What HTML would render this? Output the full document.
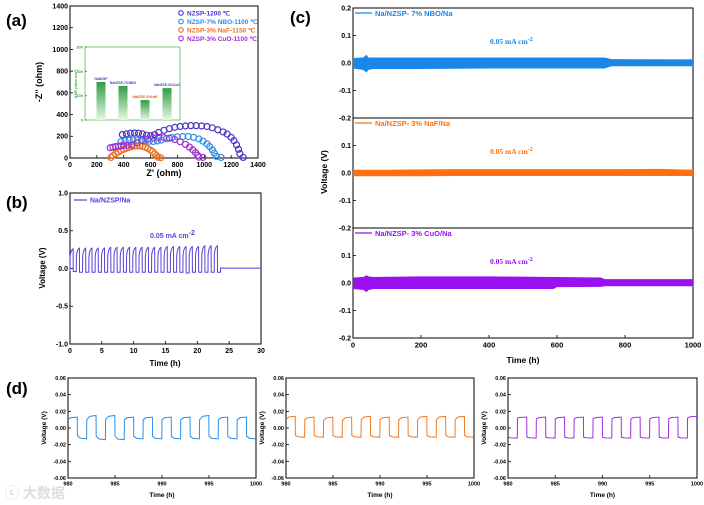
<!DOCTYPE html>
<html><head><meta charset="utf-8">
<style>
html,body{margin:0;padding:0;background:#fff;}
svg{display:block;font-family:"Liberation Sans",Arial,sans-serif;font-weight:bold;}
</style></head>
<body>
<svg id="fig" width="704" height="505" viewBox="0 0 704 505" xmlns="http://www.w3.org/2000/svg">
<rect width="704" height="505" fill="#fff"/>
<text x="6" y="26" font-size="17">(a)</text>
<text x="6" y="208" font-size="17">(b)</text>
<text x="290" y="23" font-size="17">(c)</text>
<text x="6" y="394" font-size="17">(d)</text>
<text x="5" y="498" font-size="14" fill="#ddd" font-family="'Liberation Sans','Noto Sans CJK SC',sans-serif">ⓒ 大数据</text>
</svg>
<script>
const NS="http://www.w3.org/2000/svg";
const svg=document.getElementById('fig');
function mk(tag,attrs,parent,txt){const e=document.createElementNS(NS,tag);for(const k in attrs)e.setAttribute(k,attrs[k]);if(txt!==undefined)e.textContent=txt;(parent||svg).appendChild(e);return e;}
function lin(d0,d1,r0,r1){return v=>r0+(v-d0)*(r1-r0)/(d1-d0);}

// ---------- DATA ----------
// (a) Nyquist
const aSeriesNames=["NZSP-1200 ℃","NZSP-7% NBO-1100 ℃","NZSP-3% NaF-1150 ℃","NZSP-3% CuO-1100 ℃"];
const aColors=["#4b33c9","#2a8ee8","#f07020","#a030d0"];
const aX0=[390,420,450,480,510,540,570,600,630,660,700,740,780,820,860,900,940,980,1020,1060,1100,1140,1170,1200,1220,1240,1255,1265,1290];
const aY0=[215,222,228,230,228,222,210,205,215,235,255,270,282,290,295,298,298,295,290,278,260,240,220,190,160,120,80,40,5];
const aX1=[380,410,440,470,500,530,560,590,620,650,680,720,760,800,840,880,920,960,990,1020,1040,1060,1075,1090,1125];
const aY1=[150,158,163,165,165,163,160,155,152,158,165,178,188,195,198,198,190,175,155,130,105,75,45,15,5];
const aX2=[305,320,340,360,380,400,420,440,460,480,500,520,540,560,580,600,615,630,645,655,675];
const aY2=[5,22,40,55,68,80,90,98,105,110,112,112,108,100,88,72,58,40,22,8,3];
const aX3=[300,320,340,360,380,400,430,460,500,540,580,620,660,700,740,780,820,860,890,915,935,950,960,990];
const aY3=[95,100,105,110,112,115,118,122,140,160,175,185,190,188,182,170,150,125,100,75,50,25,8,5];
const aXs=[aX0,aX1,aX2,aX3], aYs=[aY0,aY1,aY2,aY3];
const aTicks=[0,200,400,600,800,1000,1200,1400];
// inset ASR
const insetCats=["NaNZSP","NaNZSP-7%NBO","NaNZSP-3%NaF","NaNZSP-3%CuO"];
const insetVals=[156,140,82,131];
const insetTicks=[0,100,200,300];
// (b)
const bPeaks=[0.26,0.27,0.27,0.27,0.27,0.27,0.28,0.28,0.28,0.28,0.28,0.28,0.28,0.28,0.28,0.29,0.29,0.29,0.29,0.29,0.29,0.3,0.3,0.3];
const bLows=[-0.04,-0.05,-0.05,-0.05,-0.05,-0.05,-0.05,-0.05,-0.05,-0.05,-0.05,-0.05,-0.05,-0.05,-0.05,-0.05,-0.05,-0.05,-0.06,-0.05,-0.05,-0.05,-0.05,-0.05];
const bCycleHours=0.985;
const bRestValue=0.005;
const bXTicks=[0,5,10,15,20,25,30];
const bYTicks=[-1.0,-0.5,0.0,0.5,1.0];
// (c) bands
const cNames=["Na/NZSP- 7% NBO/Na","Na/NZSP- 3% NaF/Na","Na/NZSP- 3% CuO/Na"];
const cColors=["#1a86e8","#ff7010","#9a10f0"];
const cTimes=[[0,30,40,45,60,200,400,600,740,760,1000],[0,100,200,300,400,500,600,700,800,900,1000],[0,30,40,45,60,200,400,590,600,730,740,1000]];
const cUpper=[[0.018,0.02,0.03,0.02,0.02,0.02,0.02,0.02,0.02,0.014,0.013],[0.012,0.012,0.013,0.014,0.014,0.014,0.014,0.014,0.014,0.015,0.012],[0.02,0.022,0.028,0.024,0.022,0.024,0.024,0.022,0.022,0.02,0.014,0.014]];
const cLower=[[-0.02,-0.025,-0.035,-0.025,-0.022,-0.022,-0.02,-0.02,-0.02,-0.012,-0.012],[-0.012,-0.012,-0.012,-0.011,-0.011,-0.011,-0.011,-0.011,-0.011,-0.011,-0.011],[-0.022,-0.025,-0.033,-0.026,-0.022,-0.022,-0.022,-0.022,-0.015,-0.014,-0.012,-0.012]];
const cXTicks=[0,200,400,600,800,1000];
const cYTicks=[-0.2,-0.1,0.0,0.1,0.2];
// (d)
const dColors=["#2a8ee8","#f07a26","#a030e0"];
const dStartHigh=[[0.010,0.010,0.010,0.010,0.010,0.010,0.010,0.010,0.010,0.010],[0.010,0.010,0.009,0.009,0.010,0.010,0.010,0.010,0.010,0.010],[0.012,0.011,0.011,0.011,0.011,0.011,0.011,0.011,0.011,0.012]];
const dHigh=[[0.013,0.015,0.015,0.013,0.013,0.013,0.013,0.015,0.013,0.013],[0.014,0.013,0.013,0.013,0.014,0.013,0.013,0.014,0.014,0.014],[0.013,0.013,0.013,0.013,0.013,0.013,0.013,0.013,0.013,0.014]];
const dStartLow=[[-0.009,-0.010,-0.010,-0.010,-0.010,-0.010,-0.010,-0.010,-0.010,-0.010],[-0.009,-0.009,-0.009,-0.009,-0.009,-0.009,-0.009,-0.009,-0.009,-0.009],[-0.011,-0.011,-0.011,-0.011,-0.011,-0.011,-0.011,-0.011,-0.011,-0.011]];
const dLow=[[-0.013,-0.014,-0.014,-0.013,-0.013,-0.013,-0.013,-0.013,-0.013,-0.013],[-0.011,-0.011,-0.011,-0.011,-0.011,-0.011,-0.011,-0.011,-0.011,-0.011],[-0.012,-0.012,-0.012,-0.012,-0.012,-0.012,-0.012,-0.012,-0.012,-0.012]];
const dLowFirst=[false,false,true];
const dXTicks=[980,985,990,995,1000];
const dYTicks=[-0.06,-0.04,-0.02,0.00,0.02,0.04,0.06];

// ---------- helpers ----------
function frame(x0,y0,x1,y1,name){mk('rect',{x:x0,y:y0,width:x1-x0,height:y1-y0,fill:'none',stroke:'#000','stroke-width':1,});}
function xTicks(ticks,sx,yb,fs,fmt,name){const g=mk('g',{});ticks.forEach(t=>{const x=sx(t);mk('line',{x1:x,x2:x,y1:yb,y2:yb-3,stroke:'#000','stroke-width':0.8},g);mk('text',{x:x,y:yb+fs+2,'font-size':fs,'text-anchor':'middle'},g,fmt(t));});}
function yTicks(ticks,sy,xl,fs,fmt,name){const g=mk('g',{});ticks.forEach(t=>{const y=sy(t);mk('line',{x1:xl,x2:xl+3,y1:y,y2:y,stroke:'#000','stroke-width':0.8},g);mk('text',{x:xl-2,y:y+fs*0.35,'font-size':fs,'text-anchor':'end'},g,fmt(t));});}

// ---------- (a) ----------
{
const sx=lin(0,1400,70,258), sy=lin(0,1400,158,6);
frame(70,6,258,158,'nyquist-plot-frame');
xTicks(aTicks,sx,158,7,t=>t,'nyquist-x-ticks');
yTicks(aTicks,sy,70,7,t=>t,'nyquist-y-ticks');
mk('text',{x:164,y:176,'font-size':9,'text-anchor':'middle',},svg,"Z' (ohm)");
mk('text',{x:0,y:0,'font-size':9,'text-anchor':'middle',transform:'translate(42,82) rotate(-90)',},svg,"-Z'' (ohm)");
aXs.forEach((xs,k)=>{const g=mk('g',{});
 xs.forEach((v,i)=>{const c=mk('circle',{cx:sx(v),cy:sy(aYs[k][i]),r:3,fill:'none',stroke:aColors[k],'stroke-width':1.2},g);
 });});
aSeriesNames.forEach((n,k)=>{const y=15+k*8.5;const g=mk('g',{});
 mk('circle',{cx:181,cy:y-2,r:2.3,fill:'none',stroke:aColors[k],'stroke-width':1.1},g);
 mk('text',{x:187,y:y+0.5,'font-size':6.5,fill:aColors[k]},g,n);});
// inset
const ix=lin(0,4,90,178), iy=lin(0,300,120,47);
mk('rect',{x:85,y:47,width:95,height:73,fill:'#fff',stroke:'#5cb85c','stroke-width':0.8,});
const defs=mk('defs',{});const gr=mk('linearGradient',{id:'gb',x1:0,y1:0,x2:0,y2:1},defs);
mk('stop',{offset:'0','stop-color':'#2f9e44'},gr);mk('stop',{offset:'1','stop-color':'#e6f7e6'},gr);
insetTicks.forEach(t=>{mk('line',{x1:85,x2:87,y1:iy(t),y2:iy(t),stroke:'#3a3'});mk('text',{x:83,y:iy(t)+1.5,'font-size':4,'text-anchor':'end',fill:'#3a3'},svg,t);});
mk('text',{x:0,y:0,'font-size':4,'text-anchor':'middle',fill:'#3a3',transform:'translate(77,84) rotate(-90)'},svg,'ASR (ohm cm²)');
insetVals.forEach((v,i)=>{const xc=ix(i+0.5);const b=mk('rect',{x:xc-4.5,y:iy(v),width:9,height:iy(0)-iy(v),fill:'url(#gb)'});
 
 mk('text',{x:xc,y:iy(v)-2,'font-size':3.3,'text-anchor':'middle',fill:i==2?'#e06010':'#4040c0'},svg,insetCats[i]);});
}

// ---------- (b) ----------
{
const sx=lin(0,30,70,261), sy=lin(-1,1,344,193);
frame(70,193,261,344,'voltage-b-frame');
xTicks(bXTicks,sx,344,7,t=>t,'voltage-b-x-ticks');
yTicks(bYTicks,sy,70,7,t=>t.toFixed(1),'voltage-b-y-ticks');
mk('text',{x:165,y:366,'font-size':8,'text-anchor':'middle',},svg,'Time (h)');
mk('text',{x:0,y:0,'font-size':8,'text-anchor':'middle',transform:'translate(45,268) rotate(-90)',},svg,'Voltage (V)');
let d='';bPeaks.forEach((p,i)=>{const t0=i*bCycleHours,h=bCycleHours/2;const lo=bLows[i];
 d+=(i?'L':'M')+sx(t0)+','+sy(lo)+'L'+sx(t0+0.02)+','+sy(p*0.6)+'Q'+sx(t0+0.12)+','+sy(p*0.95)+' '+sx(t0+h)+','+sy(p)+'L'+sx(t0+h+0.02)+','+sy(lo)+'L'+sx(t0+2*h)+','+sy(lo);});
const tEnd=bPeaks.length*bCycleHours;
d+='L'+sx(tEnd)+','+sy(bRestValue)+'L'+sx(30)+','+sy(bRestValue);
mk('path',{d:d,fill:'none',stroke:'#5a3fd8','stroke-width':1,});
mk('line',{x1:74,x2:87,y1:200,y2:200,stroke:'#5a3fd8','stroke-width':1.2});
mk('text',{x:90,y:202.5,'font-size':7,fill:'#5a3fd8',},svg,'Na/NZSP/Na');
mk('text',{x:150,y:238,'font-size':7,fill:'#5a3fd8',},svg,'0.05 mA cm').appendChild(Object.assign(document.createElementNS(NS,'tspan'),{textContent:'-2'})).setAttribute('dy','-3');
}

// ---------- (c) ----------
{
const sx=lin(0,1000,353,693);
const tops=[8,118,228];
cNames.forEach((n,k)=>{const y0=tops[k],y1=y0+110;const sy=lin(-0.2,0.2,y1,y0);
 frame(353,y0,693,y1,'voltage-c-frame-'+k);
 yTicks(k==0?cYTicks:cYTicks.slice(0,4),sy,353,7,t=>t.toFixed(1),'voltage-c-y-ticks-'+k);
 let up='',lo='';cTimes[k].forEach((t,i)=>{up+=(i?'L':'M')+sx(t)+','+sy(cUpper[k][i]);});
 for(let i=cTimes[k].length-1;i>=0;i--)lo+='L'+sx(cTimes[k][i])+','+sy(cLower[k][i]);
 mk('path',{d:up+lo+'Z',fill:cColors[k],});
 mk('line',{x1:355,x2:372,y1:y0+5,y2:y0+5,stroke:cColors[k],'stroke-width':1.2});
 mk('text',{x:375,y:y0+8,'font-size':7.5,fill:cColors[k],},svg,n);
 const ann=mk('text',{x:490,y:y0+36,'font-size':7.5,fill:cColors[k],'font-family':'"Liberation Serif",serif',},svg,'0.05 mA cm');
 mk('tspan',{dy:-3,'font-size':6},ann,'-2');
});
xTicks(cXTicks,sx,338,7.5,t=>t,'voltage-c-x-ticks');
mk('text',{x:523,y:363,'font-size':8.5,'text-anchor':'middle',},svg,'Time (h)');
mk('text',{x:0,y:0,'font-size':8.5,'text-anchor':'middle',transform:'translate(327,172) rotate(-90)',},svg,'Voltage (V)');
}

// ---------- (d) ----------
{
const lefts=[68,286,508], rights=[256,474,697];
dColors.forEach((col,k)=>{const sx=lin(980,1000,lefts[k],rights[k]), sy=lin(-0.06,0.06,478,378);
 frame(lefts[k],378,rights[k],478,'voltage-d-frame-'+k);
 xTicks(dXTicks,sx,478,5.5,t=>t,'voltage-d-x-ticks-'+k);
 yTicks(dYTicks,sy,lefts[k],5.5,t=>t.toFixed(2),'voltage-d-y-ticks-'+k);
 mk('text',{x:(lefts[k]+rights[k])/2,y:497,'font-size':6.5,'text-anchor':'middle',},svg,'Time (h)');
 mk('text',{x:0,y:0,'font-size':6.5,'text-anchor':'middle',transform:'translate('+(lefts[k]-22)+',428) rotate(-90)',},svg,'Voltage (V)');
 let d='';dHigh[k].forEach((h,i)=>{const t0=980+2*i;
  const segs=dLowFirst[k]?[[dStartLow[k][i],dLow[k][i]],[dStartHigh[k][i],h]]:[[dStartHigh[k][i],h],[dStartLow[k][i],dLow[k][i]]];
  segs.forEach((s,j)=>{const ta=t0+j,tb=t0+j+1;d+=(d?'L':'M')+sx(ta)+','+sy(s[0])+'L'+sx(ta+0.3)+','+sy((s[0]+s[1])/2+ (s[1]-s[0])*0.3)+'L'+sx(tb-0.02)+','+sy(s[1]);});});
 mk('path',{d:d,fill:'none',stroke:col,'stroke-width':1,});
});
}
</script>
</body></html>
